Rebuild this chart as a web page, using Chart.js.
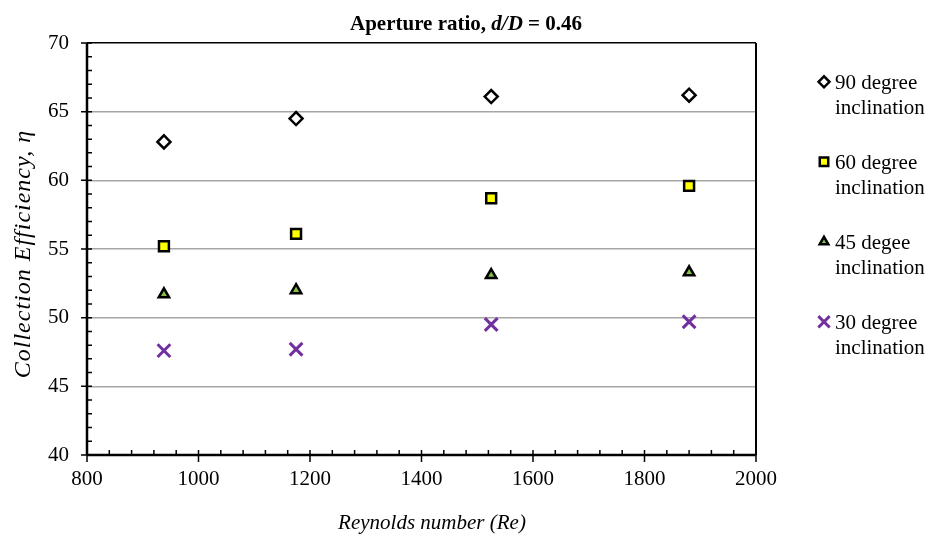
<!DOCTYPE html>
<html>
<head>
<meta charset="utf-8">
<script src="https://cdn.jsdelivr.net/npm/chart.js@4.4.0/dist/chart.umd.min.js"></script>
<style>
  html, body { margin: 0; padding: 0; background: #fff; }
  #wrap { width: 941px; height: 536px; }
</style>
</head>
<body>
<div id="wrap"><canvas id="effChart" width="941" height="536"></canvas></div>
<script>
// chart values
const reynolds = [938, 1175, 1525, 1880];
const eff90 = [62.8, 64.5, 66.1, 66.2];
const eff60 = [55.2, 56.1, 58.7, 59.6];
const eff45 = [51.7, 52.0, 53.1, 53.3];
const eff30 = [47.6, 47.7, 49.5, 49.7];
const seriesNames = [
    ['90 degree', 'inclination'],
    ['60 degree', 'inclination'],
    ['45 degee', 'inclination'],
    ['30 degree', 'inclination']
];
const xTickValues = [800, 1000, 1200, 1400, 1600, 1800, 2000];
const yTickValues = [40, 45, 50, 55, 60, 65, 70];

const serif = '"Liberation Serif", "Times New Roman", serif';

function toPoints(values) {
    return values.map((v, i) => ({ x: reynolds[i], y: v }));
}

const datasets = [
    { label: seriesNames[0].join(' '), data: toPoints(eff90), pointStyle: 'rectRot', pointRadius: 6.5,
      backgroundColor: '#ffffff', borderColor: '#000000', borderWidth: 2.5 },
    { label: seriesNames[1].join(' '), data: toPoints(eff60), pointStyle: 'rect', pointRadius: 7,
      backgroundColor: '#ffff00', borderColor: '#000000', borderWidth: 2.5 },
    { label: seriesNames[2].join(' '), data: toPoints(eff45), pointStyle: 'triangle', pointRadius: 6,
      backgroundColor: '#86bf4a', borderColor: '#000000', borderWidth: 2.5 },
    { label: seriesNames[3].join(' '), data: toPoints(eff30), pointStyle: 'crossRot', pointRadius: 9,
      backgroundColor: '#7030a0', borderColor: '#7030a0', borderWidth: 3 }
];

// axes frame, tick marks, title and legend
const framePlugin = {
    id: 'frame',
    afterDraw(chart) {
        const ctx = chart.ctx;
        const area = chart.chartArea;
        const xs = chart.scales.x;
        const ys = chart.scales.y;
        ctx.save();

        // right border
        ctx.strokeStyle = '#000';
        ctx.lineWidth = 2;
        ctx.beginPath();
        ctx.moveTo(area.right, area.top);
        ctx.lineTo(area.right, area.bottom);
        ctx.stroke();

        // axis lines
        ctx.lineWidth = 2.5;
        ctx.beginPath();
        ctx.moveTo(area.left, area.top);
        ctx.lineTo(area.left, area.bottom);
        ctx.moveTo(area.left, area.bottom);
        ctx.lineTo(area.right, area.bottom);
        ctx.stroke();

        // tick marks
        ctx.lineWidth = 1.5;
        ctx.beginPath();
        for (let v = 40; v <= 70; v += 1) {
            const y = ys.getPixelForValue(v);
            if (v % 5 === 0) {
                ctx.moveTo(area.left - 6, y);
                ctx.lineTo(area.left + 5, y);
            } else {
                ctx.moveTo(area.left, y);
                ctx.lineTo(area.left + 5, y);
            }
        }
        for (let v = 800; v <= 2000; v += 40) {
            const x = xs.getPixelForValue(v);
            if (v % 200 === 0) {
                ctx.moveTo(x, area.bottom - 5);
                ctx.lineTo(x, area.bottom + 7);
            } else {
                ctx.moveTo(x, area.bottom - 5);
                ctx.lineTo(x, area.bottom);
            }
        }
        ctx.stroke();

        // chart title with italic d/D
        ctx.fillStyle = '#000';
        ctx.textBaseline = 'alphabetic';
        const parts = [
            ['Aperture ratio, ', 'bold 21px ' + serif],
            ['d/D', 'italic bold 21px ' + serif],
            [' = 0.46', 'bold 21px ' + serif]
        ];
        let total = 0;
        parts.forEach(p => { ctx.font = p[1]; total += ctx.measureText(p[0]).width; });
        let tx = 466 - total / 2;
        parts.forEach(p => {
            ctx.font = p[1];
            ctx.textAlign = 'left';
            ctx.fillText(p[0], tx, 29.5);
            tx += ctx.measureText(p[0]).width;
        });

        // axis titles
        ctx.font = 'italic 21px ' + serif;
        ctx.textAlign = 'center';
        ctx.fillText('Reynolds number (Re)', 432, 529);
        ctx.save();
        ctx.translate(30, 254);
        ctx.rotate(-Math.PI / 2);
        ctx.font = 'italic 24px ' + serif;
        ctx.letterSpacing = '1px';
        ctx.fillText('Collection Efficiency, η', 0, 0);
        ctx.letterSpacing = '0px';
        ctx.restore();

        // legend
        ctx.font = '21px ' + serif;
        ctx.textAlign = 'left';
        chart.data.datasets.forEach((ds, i) => {
            const base = 89.3 + i * 80;
            const my = base - 7.5;
            ctx.fillStyle = ds.backgroundColor;
            ctx.strokeStyle = ds.borderColor;
            ctx.lineWidth = ds.borderWidth;
            Chart.helpers.drawPoint(ctx, {
                pointStyle: ds.pointStyle,
                radius: ds.pointRadius - 1,
                borderWidth: ds.borderWidth,
                rotation: 0
            }, 824, my);
            ctx.fillStyle = '#000';
            ctx.fillText(seriesNames[i][0], 835, base);
            ctx.fillText(seriesNames[i][1], 835, base + 25);
        });

        ctx.restore();
    }
};

new Chart(document.getElementById('effChart').getContext('2d'), {
    type: 'scatter',
    data: { datasets: datasets },
    options: {
        responsive: false,
        animation: false,
        devicePixelRatio: 1,
        layout: { padding: { top: 43, right: 185, left: 0, bottom: 0 } },
        plugins: {
            legend: { display: false },
            tooltip: { enabled: false },
            title: { display: false }
        },
        scales: {
            x: {
                type: 'linear',
                min: 800,
                max: 2000,
                afterFit: s => { s.height = 81; },
                afterBuildTicks: s => { s.ticks = xTickValues.map(v => ({ value: v })); },
                grid: { display: false, drawTicks: false },
                border: { display: false },
                ticks: { color: '#000', font: { family: serif, size: 21 }, padding: 12, maxRotation: 0,
                         callback: v => String(v) }
            },
            y: {
                type: 'linear',
                min: 40,
                max: 70,
                afterFit: s => { s.width = 87; },
                afterBuildTicks: s => { s.ticks = yTickValues.map(v => ({ value: v })); },
                grid: {
                    drawTicks: false,
                    color: c => (c.tick && c.tick.value === 70) ? '#000000' : '#a6a6a6',
                    lineWidth: c => (c.tick && c.tick.value === 40) ? 0 : 1.5
                },
                border: { display: false },
                ticks: { color: '#000', font: { family: serif, size: 21 }, padding: 18,
                         callback: v => String(v) }
            }
        }
    },
    plugins: [framePlugin]
});
</script>
</body>
</html>
